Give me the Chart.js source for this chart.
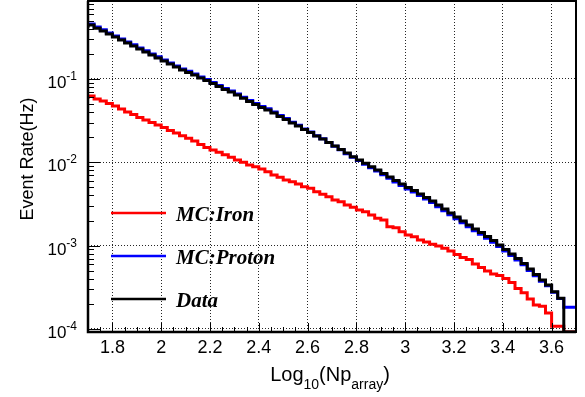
<!DOCTYPE html>
<html lang="en">
<head>
    <meta charset="UTF-8">
    <title>Event rate vs Log10(Np_array)</title>
    <script src="https://cdn.jsdelivr.net/npm/chart.js"></script>
    <style>
        body { margin: 0; background: #fff; }
        #grafico { display: block; }
    </style>
</head>
<body>
    <canvas id="grafico" width="585" height="397"></canvas>

    <script>
        // histogram bin edges (Log10 Np_array), 80 bins of 0.025
        const binEdges = [
            1.7, 1.725, 1.75, 1.775, 1.8, 1.825, 1.85, 1.875, 1.9, 1.925,
            1.95, 1.975, 2, 2.025, 2.05, 2.075, 2.1, 2.125, 2.15, 2.175,
            2.2, 2.225, 2.25, 2.275, 2.3, 2.325, 2.35, 2.375, 2.4, 2.425,
            2.45, 2.475, 2.5, 2.525, 2.55, 2.575, 2.6, 2.625, 2.65, 2.675,
            2.7, 2.725, 2.75, 2.775, 2.8, 2.825, 2.85, 2.875, 2.9, 2.925,
            2.95, 2.975, 3, 3.025, 3.05, 3.075, 3.1, 3.125, 3.15, 3.175,
            3.2, 3.225, 3.25, 3.275, 3.3, 3.325, 3.35, 3.375, 3.4, 3.425,
            3.45, 3.475, 3.5, 3.525, 3.55, 3.575, 3.6, 3.625, 3.65, 3.675,
            3.7
        ];

        // event rate (Hz) per bin
        const ironRate = [
            0.0575, 0.0625, 0.0575, 0.0545, 0.0508, 0.0474, 0.0437, 0.0402, 0.0375, 0.0345,
            0.0322, 0.0301, 0.0281, 0.0262, 0.0241, 0.0225, 0.0209, 0.0194, 0.0180, 0.0164,
            0.0151, 0.0141, 0.0132, 0.0123, 0.0115, 0.0107, 0.0100, 0.00929, 0.00886, 0.00832,
            0.00772, 0.00705, 0.00661, 0.00614, 0.00585, 0.00548, 0.00509, 0.00487, 0.00444, 0.00413,
            0.00387, 0.00353, 0.00337, 0.00307, 0.00288, 0.00268, 0.00255, 0.00233, 0.00213, 0.00203,
            0.00169, 0.00164, 0.00147, 0.00134, 0.00128, 0.00117, 0.00111, 0.00104, 0.000989, 0.000929,
            0.000861, 0.000782, 0.000720, 0.000681, 0.000601, 0.000546, 0.000496, 0.000456, 0.000438, 0.000403,
            0.000361, 0.000307, 0.000272, 0.000229, 0.000194, 0.000188, 0.000155, 0.000108, 0.000108, 0
        ];
        const protonRate = [
            0.425, 0.458, 0.420, 0.389, 0.357, 0.329, 0.303, 0.278, 0.257, 0.236,
            0.218, 0.200, 0.185, 0.169, 0.156, 0.143, 0.132, 0.124, 0.115, 0.106,
            0.0988, 0.0910, 0.0838, 0.0771, 0.0719, 0.0662, 0.0604, 0.0553, 0.0509, 0.0469,
            0.0438, 0.0401, 0.0364, 0.0335, 0.0302, 0.0278, 0.0252, 0.0231, 0.0209, 0.0192,
            0.0173, 0.0156, 0.0142, 0.0127, 0.0115, 0.0105, 0.00950, 0.00862, 0.00785, 0.00710,
            0.00643, 0.00582, 0.00527, 0.00478, 0.00440, 0.00399, 0.00362, 0.00329, 0.00294, 0.00263,
            0.00235, 0.00210, 0.00188, 0.00169, 0.00151, 0.00137, 0.00123, 0.00110, 0.000975, 0.000860,
            0.000760, 0.000672, 0.000588, 0.000505, 0.000436, 0.000375, 0.000330, 0.000276, 0.000232, 0.000182
        ];
        const dataRate = [
            0.413, 0.445, 0.407, 0.377, 0.347, 0.319, 0.294, 0.270, 0.249, 0.229,
            0.211, 0.194, 0.179, 0.164, 0.151, 0.139, 0.128, 0.120, 0.112, 0.103,
            0.0959, 0.0883, 0.0813, 0.0748, 0.0698, 0.0643, 0.0586, 0.0537, 0.0494, 0.0455,
            0.0425, 0.0391, 0.0355, 0.0327, 0.0296, 0.0273, 0.0248, 0.0228, 0.0207, 0.0191,
            0.0173, 0.0157, 0.0143, 0.0129, 0.0117, 0.0107, 0.00973, 0.00885, 0.00809, 0.00734,
            0.00667, 0.00605, 0.00548, 0.00498, 0.00458, 0.00416, 0.00378, 0.00343, 0.00307, 0.00275,
            0.00246, 0.00220, 0.00197, 0.00177, 0.00158, 0.00144, 0.00129, 0.00115, 0.00102, 0.000898,
            0.000793, 0.000700, 0.000610, 0.000524, 0.000450, 0.000386, 0.000337, 0.000280, 0.000233, 0
        ];

        const seriesNames = ['MC:Iron', 'MC:Proton', 'Data'];
        const xTicks = [1.8, 2, 2.2, 2.4, 2.6, 2.8, 3, 3.2, 3.4, 3.6];
        const xTickLabels = ['1.8', '2', '2.2', '2.4', '2.6', '2.8', '3', '3.2', '3.4', '3.6'];
        const yTicks = [1e-4, 1e-3, 1e-2, 1e-1];
        const yTickExps = ['-4', '-3', '-2', '-1'];

        const X_MIN = 1.7, X_MAX = 3.7;
        const Y_MIN = 9.2e-5, Y_MAX = 0.863;

        const SANS = '"Liberation Sans", Arial, Helvetica, sans-serif';
        const SERIF = '"Liberation Serif", "Times New Roman", serif';

        // step-histogram points; empty bins sit on the axis floor like ROOT does
        function histPoints(values) {
            return binEdges.map((edge, i) => {
                const v = values[Math.min(i, values.length - 1)];
                return { x: edge, y: v > 0 ? v : Y_MIN };
            });
        }

        function drawSupLabel(ctx, base, exp, right, yPix) {
            ctx.font = '12px ' + SANS;
            const wExp = ctx.measureText(exp).width;
            ctx.textAlign = 'left';
            ctx.textBaseline = 'alphabetic';
            ctx.fillText(exp, right - wExp, yPix + 1);
            ctx.font = '17px ' + SANS;
            ctx.textAlign = 'right';
            ctx.fillText(base, right - wExp, yPix + 9);
        }

        const rootFrame = {
            id: 'rootFrame',
            afterDraw(chart) {
                const { ctx, chartArea: a, scales: { x, y } } = chart;
                ctx.save();
                ctx.fillStyle = '#000';
                ctx.strokeStyle = '#000';

                // tick marks, inside the frame
                ctx.lineWidth = 1;
                ctx.beginPath();
                for (let e = -5; e <= 0; e++) {
                    for (let m = 1; m <= 9; m++) {
                        const v = m * Math.pow(10, e);
                        if (v < Y_MIN || v > Y_MAX) continue;
                        const py = Math.round(y.getPixelForValue(v)) + 0.5;
                        ctx.moveTo(a.left, py);
                        ctx.lineTo(a.left + (m === 1 ? 12 : 6), py);
                    }
                }
                for (let i = 0; i <= 40; i++) {
                    const v = X_MIN + i * 0.05;
                    const major = xTicks.some(t => Math.abs(t - v) < 1e-6);
                    const px = Math.round(x.getPixelForValue(v)) + 0.5;
                    ctx.moveTo(px, a.bottom);
                    ctx.lineTo(px, a.bottom - (major ? 9 : 5));
                }
                ctx.stroke();

                // frame
                ctx.lineWidth = 2;
                ctx.strokeRect(a.left, a.top, a.right - a.left, a.bottom - a.top);
                ctx.lineWidth = 2.5;
                ctx.beginPath();
                ctx.moveTo(a.left, a.top);
                ctx.lineTo(a.left, a.bottom);
                ctx.lineTo(a.right, a.bottom);
                ctx.stroke();

                // y tick labels 10^n
                yTicks.forEach((v, i) => {
                    drawSupLabel(ctx, '10', yTickExps[i], a.left - 11, y.getPixelForValue(v));
                });

                // x tick labels
                ctx.font = '18px ' + SANS;
                ctx.textAlign = 'center';
                ctx.textBaseline = 'alphabetic';
                xTicks.forEach((v, i) => {
                    ctx.fillText(xTickLabels[i], x.getPixelForValue(v), 353);
                });

                // x title: Log_{10}(Np_{array})
                const parts = [
                    ['Log', 20, 0], ['10', 14, 8], ['(Np', 20, 0], ['array', 14, 8], [')', 20, 0]
                ];
                let total = 0;
                parts.forEach(p => { ctx.font = p[1] + 'px ' + SANS; total += ctx.measureText(p[0]).width; });
                let cx = 330 - total / 2;
                ctx.textAlign = 'left';
                parts.forEach(p => {
                    ctx.font = p[1] + 'px ' + SANS;
                    ctx.fillText(p[0], cx, 381 + p[2]);
                    cx += ctx.measureText(p[0]).width;
                });

                // y title
                ctx.save();
                ctx.translate(33, 159);
                ctx.rotate(-Math.PI / 2);
                ctx.font = '18px ' + SANS;
                ctx.textAlign = 'center';
                ctx.fillText('Event Rate(Hz)', 0, 0);
                ctx.restore();

                // legend
                const rows = [213, 256, 299];
                chart.data.datasets.forEach((ds, i) => {
                    ctx.strokeStyle = ds.borderColor;
                    ctx.lineWidth = 2.5;
                    ctx.beginPath();
                    ctx.moveTo(111, rows[i]);
                    ctx.lineTo(166, rows[i]);
                    ctx.stroke();
                    ctx.fillStyle = '#000';
                    ctx.font = 'italic bold 21px ' + SERIF;
                    ctx.textAlign = 'left';
                    ctx.fillText(ds.label, 176, rows[i] + 7.5);
                });

                ctx.restore();
            }
        };

        const gridOpts = { color: 'rgba(0,0,0,0.85)', lineWidth: 1, drawTicks: false };
        const borderOpts = { display: false, dash: [1, 2] };

        const ctx = document.getElementById('grafico').getContext('2d');
        const myChart = new Chart(ctx, {
            type: 'line',
            data: {
                datasets: [
                    { label: seriesNames[0], data: histPoints(ironRate), borderColor: '#ff0000', order: 3 },
                    { label: seriesNames[1], data: histPoints(protonRate), borderColor: '#0000ff', order: 2 },
                    { label: seriesNames[2], data: histPoints(dataRate), borderColor: '#000000', order: 1 }
                ]
            },
            options: {
                responsive: false,
                animation: false,
                devicePixelRatio: 1,
                layout: { padding: { left: 88, right: 9, top: 1, bottom: 65 } },
                elements: {
                    line: { stepped: 'after', borderWidth: 3, tension: 0, fill: false, borderJoinStyle: 'miter' },
                    point: { radius: 0, hoverRadius: 0 }
                },
                plugins: { legend: { display: false }, tooltip: { enabled: false } },
                scales: {
                    x: {
                        type: 'linear', min: X_MIN, max: X_MAX,
                        afterBuildTicks: s => { s.ticks = xTicks.map(v => ({ value: v })); },
                        ticks: { display: false },
                        grid: gridOpts, border: borderOpts
                    },
                    y: {
                        type: 'logarithmic', min: Y_MIN, max: Y_MAX,
                        afterBuildTicks: s => { s.ticks = yTicks.map(v => ({ value: v })); },
                        ticks: { display: false },
                        grid: gridOpts, border: borderOpts
                    }
                }
            },
            plugins: [rootFrame]
        });
    </script>
</body>
</html>
